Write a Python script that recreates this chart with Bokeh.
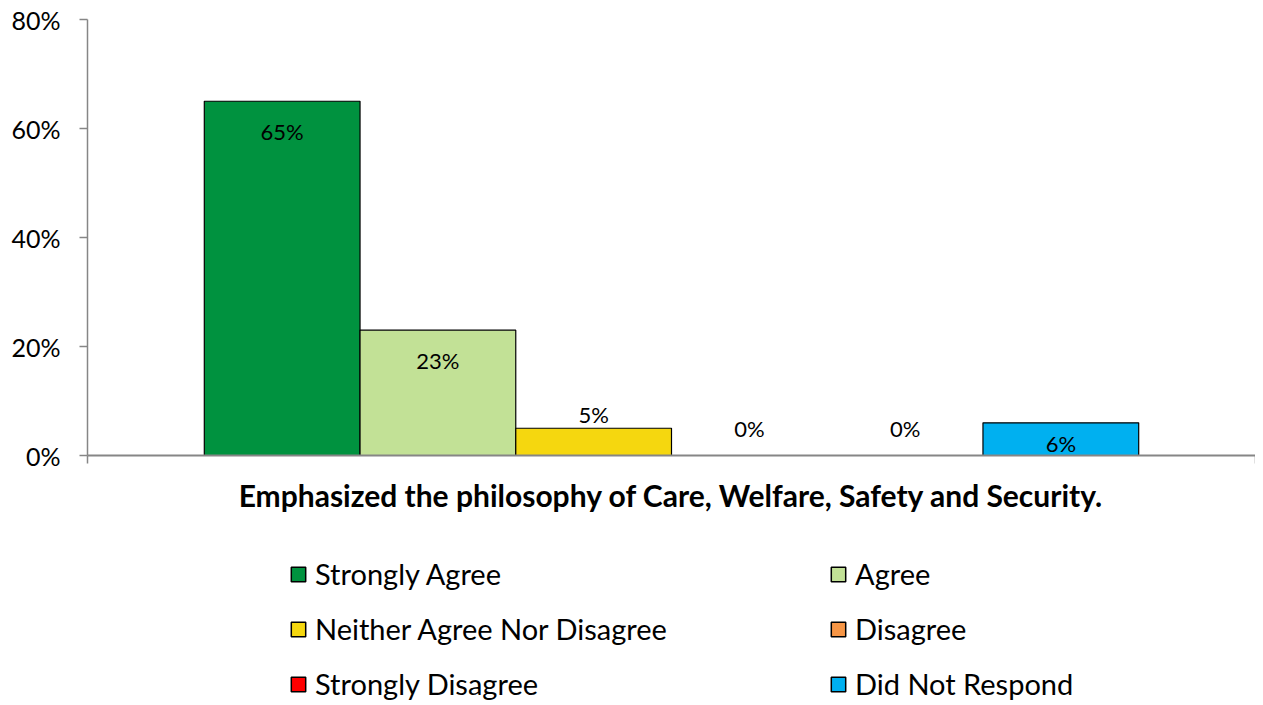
from bokeh.plotting import figure
from bokeh.models import (ColumnDataSource, FixedTicker, NumeralTickFormatter,
                          LabelSet, Range1d, Legend, LegendItem)
from bokeh.layouts import column
from bokeh.core.properties import value
from bokeh.embed import file_html
from bokeh.resources import INLINE

categories = ["Strongly Agree", "Agree", "Neither Agree Nor Disagree", "Disagree",
              "Strongly Disagree", "Did Not Respond"]
values = [0.65, 0.23, 0.05, 0.0, 0.0, 0.06]
labels = ["65%", "23%", "5%", "0%", "0%", "6%"]
colors = ["#00923F", "#C2E196", "#F5D70F", "#F79646", "#FF0000", "#00B0F0"]
title = "Emphasized the philosophy of Care, Welfare, Safety and Security."
y_ticks = [0, 0.2, 0.4, 0.6, 0.8]

FONT = "Lato"
gap = 0.75
xs = [gap + 0.5 + i for i in range(len(values))]
# label offsets (px): inside-end for tall bars, above for short ones
label_dy = []
for v in values:
    if v >= 0.1:
        label_dy.append(-30)
    elif v > 0.055:
        label_dy.append(-21)
    elif v > 0:
        label_dy.append(14)
    else:
        label_dy.append(27)

src = ColumnDataSource(dict(x=xs, top=values, cat=categories, color=colors,
                            lab=labels, dy=label_dy))

# ---------------- main chart ----------------
p = figure(frame_width=1168, frame_height=436, output_backend="svg", toolbar_location=None,
           x_range=Range1d(0, 2 * gap + len(values)), y_range=Range1d(0, 0.8),
           min_border_left=87, min_border_top=19, min_border_right=0, min_border_bottom=75)
p.outline_line_color = None
p.grid.visible = False
p.background_fill_color = "white"

p.vbar(x="x", top="top", bottom=0, width=1.0, source=src, fill_color="color",
       line_color="black", line_width=1.2)

lbl = LabelSet(x="x", y="top", text="lab", y_offset="dy", source=src,
               text_align="center", text_baseline="middle",
               text_font=value(FONT), text_font_size="22px", text_color="black")
p.add_layout(lbl)

ya = p.yaxis[0]
ya.ticker = FixedTicker(ticks=y_ticks)
ya.formatter = NumeralTickFormatter(format="0%")
ya.major_label_text_font = FONT
ya.major_label_text_font_size = "25px"
ya.major_label_text_color = "black"
ya.axis_line_color = "#868686"
ya.axis_line_width = 1.5
ya.major_tick_line_color = "#868686"
ya.major_tick_line_width = 1.5
ya.major_tick_in = 0
ya.major_tick_out = 8
ya.minor_tick_line_color = None
ya.major_label_standoff = 19

xa = p.xaxis[0]
xa.ticker = FixedTicker(ticks=[0, 2 * gap + len(values)])
xa.major_label_overrides = {0: " ", 7.5: " "}
xa.major_label_text_font_size = "1px"
xa.axis_line_color = "#868686"
xa.axis_line_width = 2
xa.major_tick_line_color = "#868686"
xa.major_tick_line_width = 1.5
xa.major_tick_in = 0
xa.major_tick_out = 8
xa.minor_tick_line_color = None
xa.axis_label = title
xa.axis_label_text_font = FONT
xa.axis_label_text_font_style = "bold"
xa.axis_label_text_font_size = "30px"
xa.axis_label_text_color = "black"
xa.axis_label_standoff = 4

# ---------------- legend strip ----------------
q = figure(width=1255, height=175, output_backend="svg", toolbar_location=None,
           x_axis_type=None, y_axis_type=None,
           x_range=Range1d(0, 1), y_range=Range1d(0, 1),
           min_border_left=0, min_border_right=0, min_border_top=0, min_border_bottom=0)
q.outline_line_color = None
q.grid.visible = False

# legend-only renderers (no drawable position in this strip)
nan = float("nan")
rends = []
for i, (c, col) in enumerate(zip(categories, colors)):
    rends.append(q.vbar(x=[nan], top=[values[i]], bottom=0, width=0.1,
                        fill_color=col, line_color="black", line_width=1.5))

# legend fills column-major: order items so rows read left-to-right
order = list(range(0, len(categories), 2)) + list(range(1, len(categories), 2))
items = [LegendItem(label=categories[i], renderers=[rends[i]]) for i in order]
leg = Legend(items=items, ncols=2, location=(202, 4), margin=0, padding=0,
             border_line_color=None, background_fill_alpha=0,
             glyph_width=18, glyph_height=18, label_height=24, label_width=494,
             label_standoff=8, spacing=20,
             label_text_font=FONT, label_text_font_size="29px", label_text_color="black")
q.add_layout(leg)

open("out.html", "w").write(file_html(column(p, q), INLINE))
